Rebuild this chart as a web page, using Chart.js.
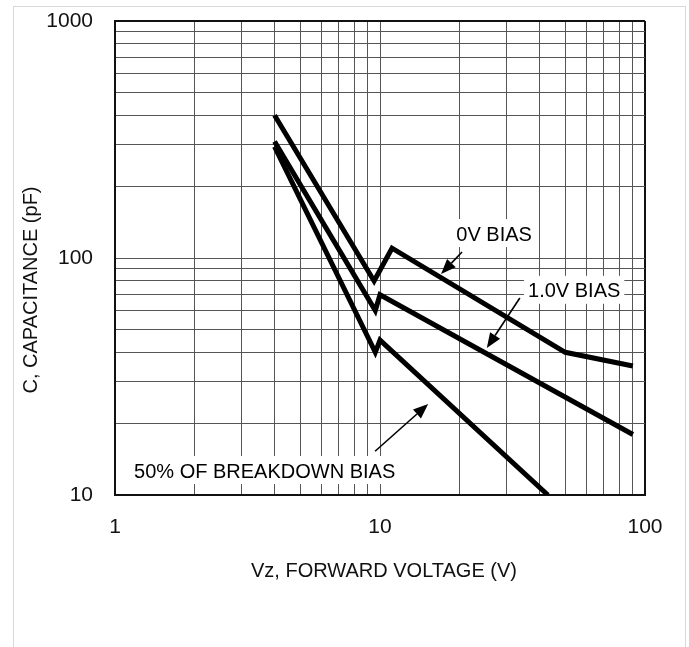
<!DOCTYPE html>
<html>
<head>
<meta charset="utf-8">
<script src="https://cdn.jsdelivr.net/npm/chart.js@4.4.1/dist/chart.umd.min.js"></script>
<style>
  body { margin: 0; background: #fff; }
  #frame { position: absolute; left: 13px; top: 6px; width: 671px; height: 700px; border: 1px solid #d9d9d9; }
  #chart { position: absolute; left: 0; top: 0; }
</style>
</head>
<body>
<div id="frame"></div>
<canvas id="chart" width="689" height="647"></canvas>
<script>
// capacitance vs voltage
const bias0V_x = [4, 9.5, 11.1, 50, 90];
const bias0V_y = [400, 80, 110, 40, 35];

const bias1V_x = [4, 9.6, 10, 90];
const bias1V_y = [310, 60, 70, 18];

const bias50_x = [4, 9.6, 10, 43];
const bias50_y = [295, 40, 45, 10];

// grid lines (log decades) and the labelled ones
const xTicks = [1, 2, 3, 4, 5, 6, 7, 8, 9, 10, 20, 30, 40, 50, 60, 70, 80, 90, 100];
const yTicks = [10, 20, 30, 40, 50, 60, 70, 80, 90, 100, 200, 300, 400, 500, 600, 700, 800, 900, 1000];
const xLabels = [1, 10, 100];
const yLabels = [10, 100, 1000];

const xTitle = 'Vz, FORWARD VOLTAGE (V)';
const yTitle = 'C, CAPACITANCE (pF)';

// callouts, in data units
const noteText = ['0V BIAS', '1.0V BIAS', '50% OF BREAKDOWN BIAS'];
const noteX = [19.4, 36.2, 1.18];
const noteY = [125, 72, 12.5];
const arrowFromX = [20.4, 33.7, 9.58];
const arrowFromY = [106, 67.8, 15.3];
const arrowToX = [17.0, 25.3, 15.2];
const arrowToY = [85.6, 41.7, 24.2];

const FONT = '"Liberation Sans", Arial, sans-serif';

function pts(xs, ys) {
  return xs.map((x, i) => ({ x: x, y: ys[i] }));
}

function line(data) {
  return {
    data: data,
    borderColor: '#000',
    borderWidth: 5,
    borderJoinStyle: 'miter',
    pointRadius: 0,
    tension: 0,
    fill: false
  };
}

const calloutPlugin = {
  id: 'callouts',
  beforeDatasetsDraw(chart) {
    const ctx = chart.ctx;
    const xs = chart.scales.x, ys = chart.scales.y;
    ctx.save();
    ctx.font = '20px ' + FONT;
    ctx.textBaseline = 'middle';
    ctx.textAlign = 'left';
    noteText.forEach((t, i) => {
      const px = xs.getPixelForValue(noteX[i]);
      const py = ys.getPixelForValue(noteY[i]);
      const w = ctx.measureText(t).width;
      ctx.fillStyle = '#fff';
      ctx.fillRect(px - 4, py - 16, w + 8, 28);
      ctx.fillStyle = '#000';
      ctx.fillText(t, px, py);
    });
    ctx.restore();
  },
  afterDatasetsDraw(chart) {
    const ctx = chart.ctx;
    const xs = chart.scales.x, ys = chart.scales.y;
    ctx.save();
    ctx.strokeStyle = '#000';
    ctx.fillStyle = '#000';
    ctx.lineWidth = 1.6;
    arrowFromX.forEach((fx, i) => {
      const x1 = xs.getPixelForValue(fx), y1 = ys.getPixelForValue(arrowFromY[i]);
      const x2 = xs.getPixelForValue(arrowToX[i]), y2 = ys.getPixelForValue(arrowToY[i]);
      const a = Math.atan2(y2 - y1, x2 - x1);
      const len = 15, half = 6;
      const bx = x2 - len * Math.cos(a), by = y2 - len * Math.sin(a);
      ctx.beginPath();
      ctx.moveTo(x1, y1);
      ctx.lineTo(bx, by);
      ctx.stroke();
      ctx.beginPath();
      ctx.moveTo(x2, y2);
      ctx.lineTo(bx + half * Math.sin(a), by - half * Math.cos(a));
      ctx.lineTo(bx - half * Math.sin(a), by + half * Math.cos(a));
      ctx.closePath();
      ctx.fill();
    });
    ctx.restore();
  },
  afterDraw(chart) {
    const ctx = chart.ctx;
    const a = chart.chartArea;
    ctx.save();
    ctx.fillStyle = '#111';
    ctx.font = '20px ' + FONT;
    ctx.textAlign = 'center';
    ctx.textBaseline = 'middle';
    ctx.fillText(xTitle, (a.left + a.right) / 2 + 4, a.bottom + 76);
    ctx.translate(31, (a.top + a.bottom) / 2 + 32);
    ctx.rotate(-Math.PI / 2);
    ctx.fillText(yTitle, 0, 0);
    ctx.restore();
  }
};

function gridColor(max) {
  return c => (c.tick && c.tick.value === max) ? '#111' : '#555';
}
function gridWidth(max) {
  return c => (c.tick && c.tick.value === max) ? 2 : 1;
}

new Chart(document.getElementById('chart'), {
  type: 'line',
  data: {
    datasets: [
      line(pts(bias0V_x, bias0V_y)),
      line(pts(bias1V_x, bias1V_y)),
      line(pts(bias50_x, bias50_y))
    ]
  },
  options: {
    responsive: false,
    animation: false,
    layout: { padding: { top: 21, right: 44, left: 0, bottom: 0 } },
    plugins: { legend: { display: false }, tooltip: { enabled: false } },
    scales: {
      x: {
        type: 'logarithmic',
        min: 1,
        max: 100,
        afterBuildTicks: s => { s.ticks = xTicks.map(v => ({ value: v })); },
        afterFit: s => { s.height = 152; s.paddingLeft = 0; s.paddingRight = 0; },
        grid: { color: gridColor(100), lineWidth: gridWidth(100), drawTicks: false },
        border: { color: '#111', width: 2 },
        ticks: {
          autoSkip: false,
          maxRotation: 0,
          padding: 20,
          color: '#111',
          font: { family: FONT, size: 21 },
          callback: v => xLabels.includes(v) ? String(v) : ''
        }
      },
      y: {
        type: 'logarithmic',
        min: 10,
        max: 1000,
        afterBuildTicks: s => { s.ticks = yTicks.map(v => ({ value: v })); },
        afterFit: s => { s.width = 115; s.paddingTop = 0; s.paddingBottom = 0; },
        grid: { color: gridColor(1000), lineWidth: gridWidth(1000), drawTicks: false },
        border: { color: '#111', width: 2 },
        ticks: {
          autoSkip: false,
          padding: 22,
          color: '#111',
          font: { family: FONT, size: 21 },
          callback: v => yLabels.includes(v) ? String(v) : ''
        }
      }
    }
  },
  plugins: [calloutPlugin]
});
</script>
</body>
</html>
